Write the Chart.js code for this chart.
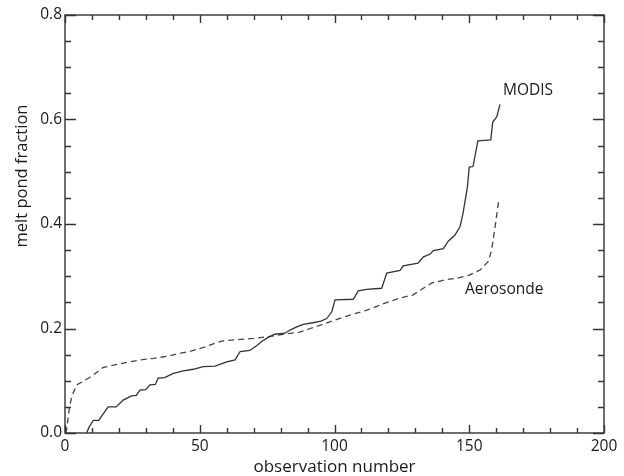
<!DOCTYPE html>
<html>
<head>
<meta charset="utf-8">
<title>melt pond fraction</title>
<script src="https://cdn.jsdelivr.net/npm/chart.js@4/dist/chart.umd.min.js"></script>
<style>
  html, body { margin: 0; padding: 0; background: #ffffff; }
  #wrap { width: 624px; height: 476px; }
</style>
</head>
<body>
<div id="wrap"><canvas id="chart" width="624" height="476"></canvas></div>
<script>
// Sorted melt pond fractions against observation number
const modisObs = [8, 9, 10.5, 12.5, 14, 16, 19, 21.6, 24.7, 26.5, 27.8, 30, 31.5, 33.5, 34.6, 37, 40.2, 43.9, 47.6, 51.3, 55.7, 60, 63.1, 65, 68.6, 71.1, 73, 75.4, 77.9, 81.6, 83.5, 86, 88.4, 92, 95, 97.1, 99, 100.2, 107, 108.8, 111.9, 117.5, 119.4, 124.3, 125.5, 131, 133, 135.4, 136.7, 140.4, 142.2, 144.7, 146.6, 147.7, 149.3, 150, 151.4, 153.2, 158, 158.7, 160.2, 161.4];
const modisFrac = [0.0, 0.012, 0.024, 0.024, 0.035, 0.050, 0.050, 0.063, 0.071, 0.072, 0.082, 0.083, 0.092, 0.093, 0.105, 0.106, 0.114, 0.119, 0.122, 0.127, 0.128, 0.136, 0.140, 0.156, 0.158, 0.167, 0.175, 0.183, 0.189, 0.191, 0.197, 0.203, 0.208, 0.211, 0.214, 0.219, 0.232, 0.255, 0.256, 0.272, 0.275, 0.277, 0.306, 0.311, 0.320, 0.325, 0.337, 0.342, 0.349, 0.353, 0.367, 0.379, 0.395, 0.421, 0.470, 0.509, 0.510, 0.559, 0.561, 0.595, 0.605, 0.629];

const aeroObs = [0, 0.6, 1.5, 2.5, 4.3, 6.8, 10.5, 14, 18, 22, 28, 33, 38, 43, 47, 52, 58, 65, 70, 75, 81, 87, 91, 94, 100, 106, 112, 118, 124, 129, 136, 141, 146, 150, 154, 157, 158.3, 159.6, 160.8, 161.7];
const aeroFrac = [0.0, 0.006, 0.044, 0.070, 0.092, 0.099, 0.111, 0.125, 0.130, 0.134, 0.140, 0.143, 0.147, 0.153, 0.157, 0.165, 0.176, 0.179, 0.181, 0.184, 0.189, 0.193, 0.200, 0.205, 0.216, 0.226, 0.235, 0.247, 0.258, 0.264, 0.287, 0.293, 0.297, 0.302, 0.312, 0.328, 0.350, 0.395, 0.440, 0.446];

const observationTicks = [0, 50, 100, 150, 200];
const fractionTicks = [0.0, 0.2, 0.4, 0.6, 0.8];

const seriesNames = ['MODIS', 'Aerosonde'];
const axisTitles = { x: 'observation number', y: 'melt pond fraction' };

const FONT = "'Open Sans', 'Noto Sans', sans-serif";
const INK = '#333333';

const toPoints = (xs, ys) => xs.map((v, i) => ({ x: v, y: ys[i] }));

// Boxed frame with inward ticks on all four sides, series names and the y title
const framePlugin = {
  id: 'framePlugin',
  beforeDraw(chart) {
    const ctx = chart.ctx;
    ctx.save();
    ctx.fillStyle = '#ffffff';
    ctx.fillRect(0, 0, chart.width, chart.height);
    ctx.restore();
  },
  afterDatasetsDraw(chart) {
    const { ctx, chartArea: { left, right, top, bottom }, scales: { x, y } } = chart;
    ctx.save();
    ctx.strokeStyle = INK;
    ctx.lineWidth = 1.4;
    ctx.beginPath();
    for (let v = x.min; v <= x.max; v += 10) {
      const px = Math.round(x.getPixelForValue(v)) + 0.5;
      const len = observationTicks.includes(v) ? 8 : 5;
      ctx.moveTo(px, bottom); ctx.lineTo(px, bottom - len);
      ctx.moveTo(px, top); ctx.lineTo(px, top + len);
    }
    for (let i = 0; i <= 16; i++) {
      const v = i * 0.05;
      const py = Math.round(y.getPixelForValue(v)) + 0.5;
      const len = i % 4 === 0 ? 11 : 6;
      ctx.moveTo(left, py); ctx.lineTo(left + len, py);
      ctx.moveTo(right, py); ctx.lineTo(right - len, py);
    }
    ctx.stroke();
    ctx.strokeRect(left, top, right - left, bottom - top);

    // series names beside the curve ends
    ctx.fillStyle = '#1a1a1a';
    ctx.font = '15.5px ' + FONT;
    ctx.textAlign = 'left';
    ctx.textBaseline = 'middle';
    ctx.fillText(seriesNames[0], x.getPixelForValue(162.5), y.getPixelForValue(0.655));
    ctx.fillText(seriesNames[1], x.getPixelForValue(148.4), y.getPixelForValue(0.274));

    // y axis title
    ctx.font = '16.5px ' + FONT;
    ctx.translate(22, 176);
    ctx.rotate(-Math.PI / 2);
    ctx.textAlign = 'center';
    ctx.fillText(axisTitles.y, 0, 0);
    ctx.restore();
  }
};

new Chart(document.getElementById('chart'), {
  type: 'line',
  data: {
    datasets: [
      {
        label: seriesNames[0],
        data: toPoints(modisObs, modisFrac),
        borderColor: INK,
        borderWidth: 1.3,
        pointRadius: 0,
        tension: 0,
        fill: false
      },
      {
        label: seriesNames[1],
        data: toPoints(aeroObs, aeroFrac),
        borderColor: '#444444',
        borderWidth: 1.3,
        borderDash: [6, 4],
        pointRadius: 0,
        tension: 0,
        fill: false
      }
    ]
  },
  options: {
    responsive: false,
    animation: false,
    devicePixelRatio: 1,
    layout: { padding: { left: 0, right: 20, top: 15, bottom: 0 } },
    plugins: {
      legend: { display: false },
      tooltip: { enabled: false }
    },
    scales: {
      x: {
        type: 'linear',
        min: 0,
        max: 200,
        afterBuildTicks(scale) { scale.ticks = observationTicks.map(v => ({ value: v })); },
        afterFit(scale) { scale.height = 43; },
        ticks: {
          color: '#1a1a1a',
          font: { family: FONT, size: 15.5 },
          padding: 4,
          maxRotation: 0,
          callback: v => String(v)
        },
        grid: { display: false, drawTicks: false },
        border: { display: false },
        title: {
          display: true,
          text: axisTitles.x,
          color: '#1a1a1a',
          font: { family: FONT, size: 17, lineHeight: 1.0 },
          padding: { top: 0, bottom: 0 }
        }
      },
      y: {
        type: 'linear',
        min: 0,
        max: 0.8,
        afterBuildTicks(scale) { scale.ticks = fractionTicks.map(v => ({ value: v })); },
        afterFit(scale) { scale.width = 65; },
        ticks: {
          color: '#1a1a1a',
          font: { family: FONT, size: 15.5 },
          padding: 3,
          callback: v => Number(v).toFixed(1)
        },
        grid: { display: false, drawTicks: false },
        border: { display: false }
      }
    }
  },
  plugins: [framePlugin]
});
</script>
</body>
</html>
